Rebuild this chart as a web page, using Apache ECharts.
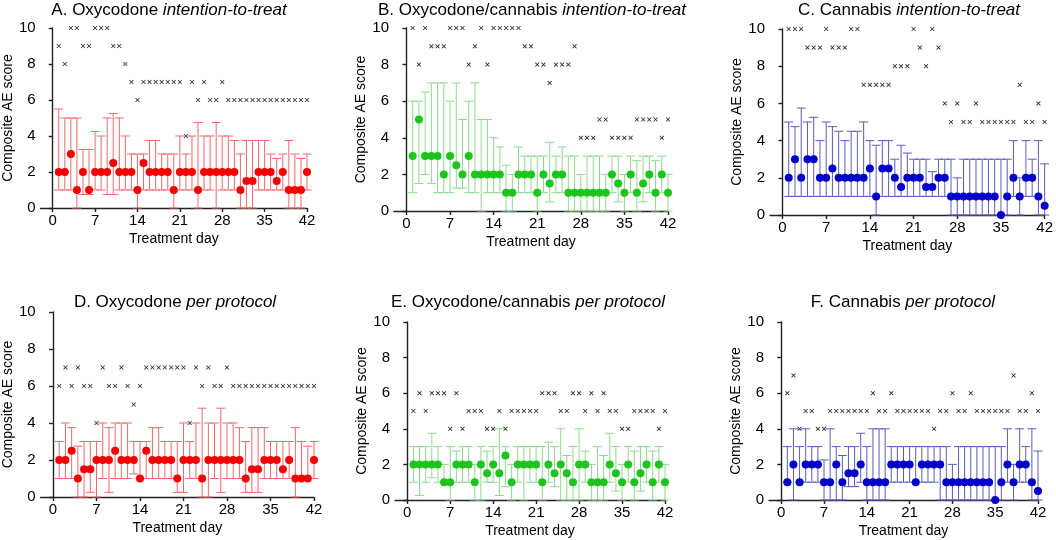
<!DOCTYPE html>
<html><head><meta charset="utf-8">
<script src="https://cdn.jsdelivr.net/npm/echarts@6/dist/echarts.min.js"></script>
<style>html,body{margin:0;padding:0;background:#fff}#c{width:1056px;height:540px}</style>
</head><body><div id="c"></div>
<script>
const days = [1,2,3,4,5,6,7,8,9,10,11,12,13,14,15,16,17,18,19,20,21,22,23,24,25,26,27,28,29,30,31,32,33,34,35,36,37,38,39,40,41,42];
const xTicks = [0,7,14,21,28,35,42];

// Panel A: Oxycodone intention-to-treat
const aMed = [2,2,3,1,2,1,2,2,2,2.5, 2,2,2,1,2.5,2,2,2,2,1, 2,2,2,1,2,2,2,2,2,2, 1,1.5,1.5,2,2,2,1.5,2,1,1,1,2];
const aLo  = [1,1,1,0,0.75,0.75,1,1,0.75,0.75, 1,1,1,0,1,1,1,1,1,0, 1,1,1,0,1,1,0,1,1,1, 0,0,0,1,1,1,1,1,0,0,0,1];
const aHi  = [5.5,5,5,5,3.25,3.25,4.25,4,5,5.25, 5,4,3,3,3,3.75,3.75,3,3,3, 4,3,4,4.75,4,4,4.75,4,4,3.75, 3,3.75,3.75,3.75,3.75,3,2.75,3,3.75,3,2.75,3];
const aMax = [9,8,10,10,9,9,10,10,10,9, 9,8,7,6,7,7,7,7,7,7, 7,4,7,6,7,6,6,7,6,6, 6,6,6,6,6,6,6,6,6,6,6,6];

// Panel B: Oxycodone/cannabis intention-to-treat
const bMed = [3,5,3,3,3,2,3,2.5,2,3, 2,2,2,2,2,1,1,2,2,2, 1,2,1.5,2,2,1,1,1,1,1, 1,1,2,1.5,1,2,1,1.5,2,1,2,1];
const bLo  = [1,1.5,2,1.5,1,1,1,1.25,1.25,1, 1,0,1,1,1,0,0,1,1,1, 0,1,0.5,1,1,0,0,0,0,0, 0,0,1,0.5,0,1,0,0.5,1,0,1,0];
const bHi  = [6,6,6.5,7,7,7,6,7,5,6, 7,5,5,4,3.5,2.5,2,3.5,3,3, 3,3,3.75,3,3.5,3,3,2,3,3, 3,2,3,3,2,3,2.75,3,3,2.75,3,2];
const bMax = [10,8,10,9,9,9,10,10,10,8, 9,10,8,10,10,10,10,10,9,9, 8,8,7,8,8,8,9,4,4,4, 5,5,4,4,4,4,5,5,5,5,4,5];

// Panel C: Cannabis intention-to-treat
const cMed = [2,3,2,3,3,2,2,2.5,2,2, 2,2,2,2.5,1,2.5,2.5,2,1.5,2, 2,2,1.5,1.5,2,2,1,1,1,1, 1,1,1,1,0,1,2,1,2,2,1,0.5];
const cLo  = [1,1,1,1,1,1,1,1,1,1, 1,1,1,1,0,1,1,1,1,1, 1,1,1,1,1,1,0,0,0,0, 0,0,0,0,0,0,1,0,1,1,0,0];
const cHi  = [5,4.75,5.75,5,5.25,4,5,4.75,4.5,4, 4.5,4.5,5,4,3.75,4,4,3,3.75,3.33, 3,3,3,2.33,3,3,3,2,3,3, 3,3,3,3,3,3,4,2,4,3,4,2.75];
const cMax = [10,10,10,9,9,9,10,9,9,9, 10,10,7,7,7,7,7,8,8,8, 10,9,8,10,9,6,5,6,5,5, 6,5,5,5,5,5,5,7,5,5,6,5];

// Panel D: Oxycodone per protocol
const dMed = [2,2,2.5,1,1.5,1.5,2,2,2,2.5, 2,2,2,1,2.5,2,2,2,2,1, 2,2,2,1,2,2,2,2,2,2, 1,1.5,1.5,2,2,2,1.5,2,1,1,1,2];
const dLo  = [1,1,1,0,0,0.25,0,1,0.25,1, 1,1,1.25,1,1,1,1,1,1,0.25, 0.25,1,1,0,0,1,0.25,1,1,1, 0.25,0.25,0.25,1,1,1,1,1,0,1,1,1];
const dHi  = [3,4,3.75,2.75,3,3,3,4,3.75,4, 4,4,3,3,3,3.75,3.75,3,3,3, 4,3,4,4.8,4,4,4.8,4,4,3.75, 3,3.75,3.75,3.75,3,3,3,3,3.75,3,2.75,3];
const dMax = [6,7,6,7,6,6,4,7,6,6, 7,6,5,6,7,7,7,7,7,7, 7,4,7,6,7,6,6,7,6,6, 6,6,6,6,6,6,6,6,6,6,6,6];

// Panel E: Oxycodone/cannabis per protocol
const eMed = [2,2,2,2,2,1,1,2,2,2, 1,2,1.5,2,1.5,2.5,1,2,2,2, 2,1,2,1.5,2,1.5,1,2,2,1, 1,1,2,1.5,1,2,1,1.5,2,1,2,1];
const eLo  = [1,0.25,1,1.25,1,1,0,1,1,1, 0,0,1,1,0.25,0.75,0,1,0,1, 1,0,1,0.75,0,0,0,0,1,0, 0,0,1,0.5,0,1,0,0.5,1,0,1,0];
const eHi  = [3,3,3,3.75,3,2,3,2.75,3,3, 2,3,2.75,3,4,3,2,3,3,3, 3,3,3.25,3,4,2.5,3,4,2.75,2, 3,2.5,3.75,3,2,3,2.75,3,3,2.75,3,2];
const eMax = [5,6,5,6,6,6,4,6,4,5, 5,5,4,4,5,4,5,5,5,5, 5,6,6,6,5,5,6,6,5,6, 5,6,5,5,4,4,5,5,5,5,4,5];

// Panel F: Cannabis per protocol
const fMed = [1,2,1,2,2,2,1,1,2,1, 1.5,1.5,2,1,1,1,1,2,2,2, 2,1,2,2,2,2,1,1,1,1, 1,1,1,1,0,1,2,1,2,2,1,0.5];
const fLo  = [1,0,1,1,1,1,0,0,0,0, 0.75,0.75,1,0,0,0,0,1,1,1, 1,1,1,1,1,0,0,0,0,0, 0,0,0,0,0,0,1,0,1,1,0,0];
const fHi  = [3,4,3,4,3,3,2.25,4,3,2.5, 3,3,3.75,3,4,4,4,3,3,3, 3,3,3,3,3,3,3,2,3,3, 3,3,3,3,3,3,4,2,4,3,4,2.75];
const fMax = [6,7,4,5,5,4,4,5,5,5, 5,5,5,5,6,5,5,6,5,5, 5,5,5,5,4,5,5,6,5,5, 6,5,5,5,5,5,5,7,5,5,6,5];

const titles = [
  ['A. Oxycodone ', 'intention-to-treat'],
  ['B. Oxycodone/cannabis ', 'intention-to-treat'],
  ['C. Cannabis ', 'intention-to-treat'],
  ['D. Oxycodone ', 'per protocol'],
  ['E. Oxycodone/cannabis ', 'per protocol'],
  ['F. Cannabis ', 'per protocol']
];

const FONT = 'Liberation Sans, Arial, Helvetica, sans-serif';
const RED = {pt:'#f50000', bar:'#f06a6a'};
const GREEN = {pt:'#1cc41c', bar:'#8fd98f'};
const BLUE = {pt:'#0000c8', bar:'#5c5cbc'};

const panels = [
  {med:aMed, lo:aLo, hi:aHi, max:aMax, col:RED,   grid:{left:35,  top:28,  width:272, height:180}, tx:169, ty:10},
  {med:bMed, lo:bLo, hi:bHi, max:bMax, col:GREEN, grid:{left:394, top:28,  width:274, height:183}, tx:532, ty:10},
  {med:cMed, lo:cLo, hi:cHi, max:cMax, col:BLUE,  grid:{left:770, top:29,  width:276, height:186}, tx:909, ty:10},
  {med:dMed, lo:dLo, hi:dHi, max:dMax, col:RED,   grid:{left:36,  top:312, width:278, height:185}, tx:175, ty:302},
  {med:eMed, lo:eLo, hi:eHi, max:eMax, col:GREEN, grid:{left:395, top:322, width:270, height:178}, tx:528, ty:302},
  {med:fMed, lo:fLo, hi:fHi, max:fMax, col:BLUE,  grid:{left:769, top:322, width:269, height:178}, tx:903, ty:302}
];

const XSYM = 'path://M0,1.3 L1.3,0 L5,3.7 L8.7,0 L10,1.3 L6.3,5 L10,8.7 L8.7,10 L5,6.3 L1.3,10 L0,8.7 L3.7,5 Z';

const grids = [], xAxes = [], yAxes = [], series = [], graphics = [];
panels.forEach((p, i) => {
  grids.push(Object.assign({containLabel:false}, p.grid));
  xAxes.push({
    type:'value', gridIndex:i, min:-2, max:42,
    axisLine:{show:true, onZero:false, lineStyle:{color:'#222', width:1.4}},
    axisTick:{show:true, customValues:xTicks, length:4, lineStyle:{color:'#222', width:1.4}},
    axisLabel:{show:true, customValues:xTicks, fontSize:15, color:'#000', fontFamily:FONT, margin:5},
    splitLine:{show:false},
    name:'Treatment day', nameLocation:'middle', nameGap:24,
    nameTextStyle:{fontSize:14, color:'#000', fontFamily:FONT}
  });
  yAxes.push({
    type:'value', gridIndex:i, min:0, max:10, interval:2,
    axisLine:{show:true, lineStyle:{color:'#222', width:1.4}},
    axisTick:{show:true, length:4, lineStyle:{color:'#222', width:1.4}},
    axisLabel:{fontSize:15, color:'#000', fontFamily:FONT, margin:5},
    splitLine:{show:false},
    name:'Composite AE score', nameLocation:'middle', nameGap:20, nameRotate:90,
    nameTextStyle:{fontSize:14, color:'#000', fontFamily:FONT}
  });
  const barColor = p.col.bar;
  series.push({
    type:'custom', xAxisIndex:i, yAxisIndex:i, silent:true, z:2, clip:false,
    data: days.map((d,k) => [d, p.lo[k], p.hi[k]]),
    encode:{x:0, y:[1,2]},
    renderItem: function(params, api){
      const x = api.value(0), lo = api.value(1), hi = api.value(2);
      const a = api.coord([x, hi]), b = api.coord([x, lo]);
      const w = 4.5;
      const st = {stroke:barColor, lineWidth:1, fill:null};
      return {type:'group', children:[
        {type:'line', shape:{x1:a[0], y1:a[1], x2:b[0], y2:b[1]}, style:st},
        {type:'line', shape:{x1:a[0]-w, y1:a[1], x2:a[0]+w, y2:a[1]}, style:st},
        {type:'line', shape:{x1:b[0]-w, y1:b[1], x2:b[0]+w, y2:b[1]}, style:st}
      ]};
    }
  });
  series.push({
    type:'scatter', xAxisIndex:i, yAxisIndex:i, silent:true, z:3,
    symbol:'circle', symbolSize:8,
    itemStyle:{color:p.col.pt, opacity:1},
    data: days.map((d,k) => [d, p.med[k]])
  });
  series.push({
    type:'scatter', xAxisIndex:i, yAxisIndex:i, silent:true, z:3,
    symbol:XSYM, symbolSize:4.5,
    itemStyle:{color:'#2a2a2a', opacity:1},
    data: days.map((d,k) => [d, p.max[k]])
  });
  graphics.push({
    type:'text', x:p.tx, y:p.ty,
    style:{
      text:'{n|' + titles[i][0] + '}{it|' + titles[i][1] + '}',
      align:'center', verticalAlign:'middle',
      rich:{
        n:{fontSize:17, fontFamily:FONT, fill:'#000', color:'#000'},
        it:{fontSize:17, fontFamily:FONT, fontStyle:'italic', fill:'#000', color:'#000'}
      }
    }
  });
});

const chart = echarts.init(document.getElementById('c'), null, {renderer:'canvas'});
chart.setOption({
  animation:false,
  backgroundColor:'#fff',
  textStyle:{fontFamily:FONT},
  grid:grids, xAxis:xAxes, yAxis:yAxes, series:series, graphic:graphics
});
</script></body></html>
